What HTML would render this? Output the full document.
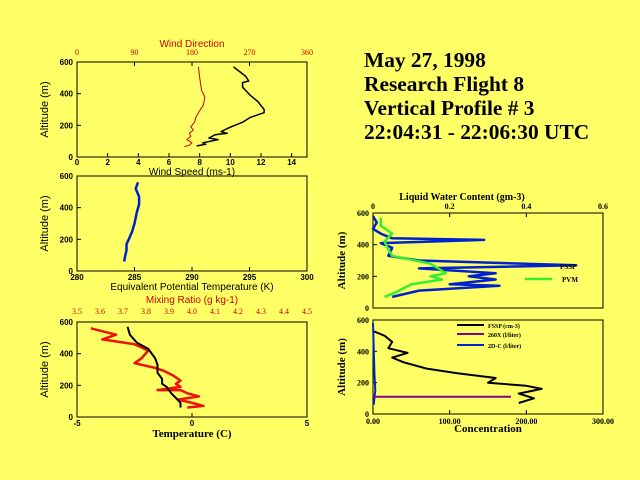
<!DOCTYPE html>
<html><head><meta charset="utf-8"><style>
body{margin:0;background:#ffff66;}
svg{display:block;font-family:"Liberation Sans",sans-serif;}
.t{font-family:"Liberation Serif",serif;font-weight:bold;font-size:21.4px;}
</style></head><body>
<svg id="s" width="640" height="480">
<rect width="640" height="480" fill="#ffff66"/>
<g>
<text class="t" x="364" y="67">May 27, 1998</text>
<text class="t" x="364" y="91">Research Flight 8</text>
<text class="t" x="364" y="115">Vertical Profile # 3</text>
<text class="t" x="364" y="139">22:04:31 - 22:06:30 UTC</text>
</g>
</svg>
<script>
const windAlt=[570,540,510,480,470,440,420,390,350,300,280,250,220,200,180,160,150,140,120,110,90,80,70];
const windSpeed=[10.2,10.6,11,11.2,10.8,10.8,11,11.3,11.8,12.2,12.2,11.3,10.8,10.3,9.8,9.4,9.8,9,8.6,9.2,8.2,8.4,7.8];
const dirAlt=[570,500,420,380,330,280,250,220,190,170,150,130,110,90,75,65];
const windDir=[190,192,195,200,198,190,186,184,178,182,176,178,172,180,176,168];
const thetaAlt=[560,520,470,420,370,300,250,200,170,130,100,60];
const thetaE=[285.3,285.1,285.4,285.4,285.2,285,284.8,284.5,284.3,284.3,284.2,284.1];
const tempAlt=[570,520,470,430,370,330,280,240,210,190,150,120,90,60];
const temp=[-2.8,-2.7,-2.4,-1.9,-1.6,-1.5,-1.5,-1.3,-1.3,-1.1,-0.9,-0.7,-0.5,-0.5];
const mixAlt=[560,520,490,460,420,370,340,310,290,260,230,210,190,180,170,170,150,130,110,90,70,60];
const mixRatio=[3.56,3.67,3.61,3.75,3.81,3.78,3.75,3.84,3.88,3.92,3.95,3.93,3.95,3.9,3.85,3.95,3.98,4.03,3.94,4.0,4.05,3.98];
const lwcAlt=[580,540,500,470,440,430,410,380,330,300,270,250,220,200,180,150,140,110,70];
const lwcFssp=[0,0.01,0,0.02,0.05,0.29,0.02,0.05,0.04,0.12,0.53,0.12,0.32,0.25,0.32,0.2,0.33,0.12,0.05];
const pvmAlt=[570,520,470,420,370,330,280,220,200,180,150,100,70];
const lwcPvm=[0.02,0.02,0.05,0.03,0.04,0.05,0.15,0.19,0.15,0.18,0.1,0.06,0.03];
const concAlt=[530,500,460,420,390,360,330,290,260,230,200,180,160,130,100,70];
const concFssp=[0,15,25,20,45,25,40,70,110,160,150,200,220,190,210,190];
const c260Alt=[110,110];
const conc260=[0,180];
const c2dAlt=[580,400,250,150,110,60];
const conc2d=[0,1,2,3,2,1];

const s=document.getElementById('s');
const NS='http://www.w3.org/2000/svg';
function el(tag,attrs,parent){const e=document.createElementNS(NS,tag);for(const k in attrs)e.setAttribute(k,attrs[k]);(parent||s).appendChild(e);return e;}
function txt(x,y,str,size,fill,anchor,parent,extra){const t=el('text',Object.assign({x:x,y:y,'font-size':size,fill:fill,'text-anchor':anchor},extra||{}),parent);t.textContent=str;return t;}

function panel(name,x0,x1,y0,y1,xmin,xmax,ymin,ymax){
 const g=el('g',{});
 
 
 el('rect',{x:x0,y:y0,width:x1-x0,height:y1-y0,fill:'none',stroke:'#000','stroke-width':1},g);
 return {g:g,sx:v=>x0+(v-xmin)/(xmax-xmin)*(x1-x0),sy:v=>y1-(v-ymin)/(ymax-ymin)*(y1-y0),x0,x1,y0,y1};
}
function line(p,xs,ys,sx,color,w,name){
 const pts=xs.map((v,i)=>sx(v).toFixed(1)+','+p.sy(ys[i]).toFixed(1)).join(' ');
 const l=el('polyline',{points:pts,fill:'none',stroke:color,'stroke-width':w,'stroke-linejoin':'round'},p.g);
 
 
}
function yticks(p,vals,serif){
 vals.forEach(v=>{const y=p.sy(v);el('line',{x1:p.x0,x2:p.x0+4,y1:y,y2:y,stroke:'#000'},p.g);
 txt(p.x0-4,y+3,String(v),8,'#000','end',p.g,{'font-weight':'bold','font-family':serif?'Liberation Serif,serif':'Liberation Sans,sans-serif'});});
}
function xticks(p,vals,labels,y,color,top,serif){
 vals.forEach((v,i)=>{const x=p.sx(v);const yy=top?p.y0:p.y1;el('line',{x1:x,x2:x,y1:yy,y2:top?yy+4:yy-4,stroke:'#000'},p.g);
 txt(x,y,labels[i],8,color,'middle',p.g,{'font-weight':'bold','font-family':serif?'Liberation Serif,serif':'Liberation Sans,sans-serif'});});
}
function ylabel(p,x,str,serif){
 const t=txt(x,(p.y0+p.y1)/2,str,11,'#000','middle',p.g,{transform:`rotate(-90 ${x} ${(p.y0+p.y1)/2})`,'font-weight':serif?'bold':'normal','font-family':serif?'Liberation Serif,serif':'Liberation Sans,sans-serif'});
 
 
}

// Panel 1 wind
let p=panel('wind-panel',77,307,62,157,0,15,0,600);
yticks(p,[0,200,400,600]);
xticks(p,[0,2,4,6,8,10,12,14],['0','2','4','6','8','10','12','14'],165,'#000',false);
const dirSx=v=>77+v/360*230;
[0,90,180,270,360].forEach(v=>{txt(dirSx(v),55,String(v),8,'#cc0000','middle',p.g,{'font-family':'Liberation Serif,serif'});el('line',{x1:dirSx(v),x2:dirSx(v),y1:62,y2:66,stroke:'#000'},p.g);});
txt(192,47,'Wind Direction',10,'#cc0000','middle',p.g);
txt(192,175,'Wind Speed (ms-1)',10,'#000','middle',p.g);
ylabel(p,48,'Altitude (m)');
line(p,windSpeed,windAlt,p.sx,'#000',1.5,'wind-speed-line');
line(p,windDir,dirAlt,dirSx,'#cc0000',1,'wind-direction-line');

// Panel 2 theta-e
p=panel('theta-e-panel',77,307,176,271,280,300,0,600);
yticks(p,[0,200,400,600]);
xticks(p,[280,285,290,295,300],['280','285','290','295','300'],280,'#000',false);
txt(192,290,'Equivalent Potential Temperature (K)',10,'#000','middle',p.g);
ylabel(p,48,'Altitude (m)');
line(p,thetaE,thetaAlt,p.sx,'#0022cc',2.5,'theta-e-line');

// Panel 3 temp/mix
p=panel('temperature-panel',77,307,322,417,-5,5,0,600);
yticks(p,[0,200,400,600]);
xticks(p,[-5,0,5],['-5','0','5'],426,'#000',false);
const mixSx=v=>77+(v-3.5)/1.0*230;
[3.5,3.6,3.7,3.8,3.9,4.0,4.1,4.2,4.3,4.4,4.5].forEach(v=>{txt(mixSx(v),314,v.toFixed(1),8,'#cc0000','middle',p.g,{'font-family':'Liberation Serif,serif'});});
txt(192,303,'Mixing Ratio (g kg-1)',10,'#cc0000','middle',p.g);
txt(192,437,'Temperature (C)',11,'#000','middle',p.g,{'font-weight':'bold','font-family':'Liberation Serif,serif'});
ylabel(p,48,'Altitude (m)');
line(p,mixRatio,mixAlt,mixSx,'#ee1100',2.5,'mixing-ratio-line');
line(p,temp,tempAlt,p.sx,'#000',2,'temperature-line');

// Right top LWC
p=panel('lwc-panel',373,603,213,308,0,0.6,0,600);
yticks(p,[0,200,400,600],true);
xticks(p,[0,0.2,0.4,0.6],['0','0.2','0.4','0.6'],209,'#000',true,true);
txt(462,200,'Liquid Water Content (gm-3)',10,'#000','middle',p.g,{'font-weight':'bold','font-family':'Liberation Serif,serif'});
ylabel(p,345,'Altitude (m)',true);
line(p,lwcFssp,lwcAlt,p.sx,'#0022cc',2.5,'lwc-fssp-line');
line(p,lwcPvm,pvmAlt,p.sx,'#33ee33',2.5,'lwc-pvm-line');
txt(560,269,'FSSP',7,'#000','start',p.g,{'font-family':'Liberation Serif,serif','font-weight':'bold'});
el('line',{x1:525,x2:552,y1:279,y2:279,stroke:'#33ee33','stroke-width':2.5},p.g);
txt(562,282,'PVM',7,'#000','start',p.g,{'font-family':'Liberation Serif,serif','font-weight':'bold'});

// Right bottom concentration
p=panel('concentration-panel',373,603,320,414,0,300,0,600);
yticks(p,[0,200,400,600],true);
xticks(p,[0,100,200,300],['0.00','100.00','200.00','300.00'],424,'#000',false,true);
txt(488,432,'Concentration',11,'#000','middle',p.g,{'font-weight':'bold','font-family':'Liberation Serif,serif'});
ylabel(p,345,'Altitude (m)',true);
line(p,concFssp,concAlt,p.sx,'#000',2,'conc-fssp-line');
line(p,conc2d,c2dAlt,p.sx,'#0022cc',2,'conc-2dc-line');
line(p,conc260,c260Alt,p.sx,'#880088',2,'conc-260x-line');
const leg=[['FSSP (cm-3)','#000',325],['260X (l/liter)','#880088',334],['2D-C (l/liter)','#0022cc',345]];
leg.forEach(l=>{
 const g=el('g',{},p.g);
 
 
 el('line',{x1:457,x2:484,y1:l[2],y2:l[2],stroke:l[1],'stroke-width':2},g);
 txt(488,l[2]+3,l[0],6,'#000','start',g,{'font-family':'Liberation Serif,serif','font-weight':'bold'});
});
</script>
</body></html>
